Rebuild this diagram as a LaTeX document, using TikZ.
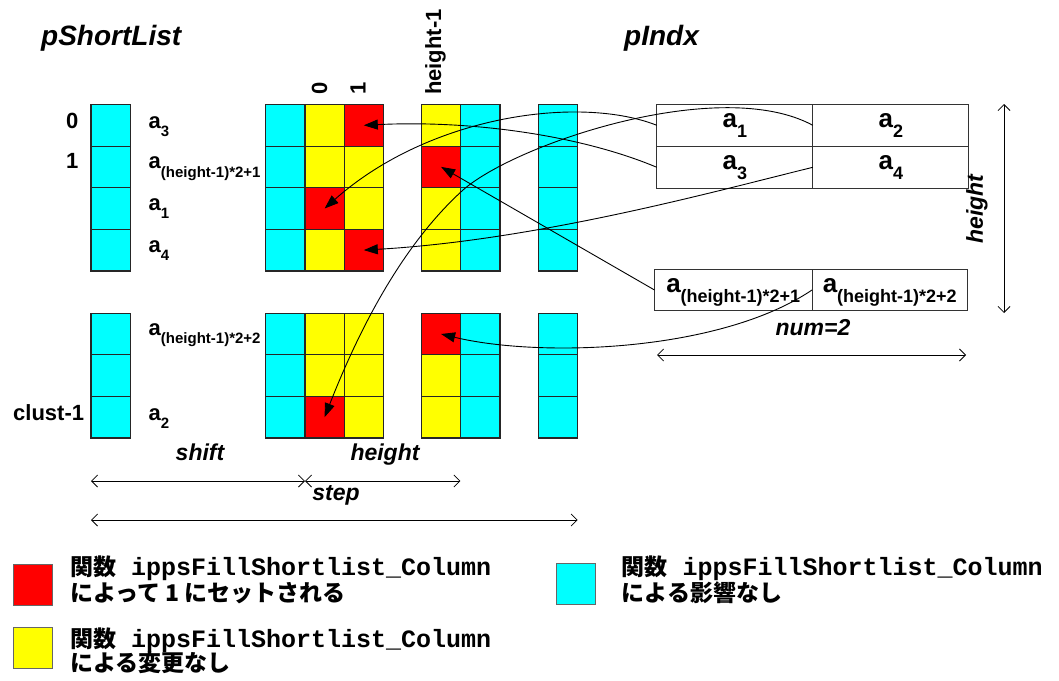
\documentclass[tikz,border=0pt]{standalone}
\usepackage{fontspec}
\setmainfont{Liberation Sans}
\newfontfamily\jpfont{Noto Sans CJK JP}
\newfontfamily\codefont{Liberation Mono}
\usetikzlibrary{arrows.meta}

\definecolor{cellcyan}{RGB}{0,255,255}
\definecolor{cellyellow}{RGB}{255,255,0}
\definecolor{cellred}{RGB}{255,0,0}

% element name "a" with a lowered index: size of a, size of index, drop, index
\newcommand\elemlabel[4]{{\fontsize{#1}{#1}\selectfont a}\raisebox{-#3pt}{\fontsize{#2}{#2}\selectfont #4}}
\newcommand\shortlbl[1]{\elemlabel{22}{15}{8.5}{#1}}
\newcommand\indxlbl[1]{\elemlabel{26}{18}{10.5}{#1}}

% one column of cells: name prefix, x of centre, y of top edge, fill colours
\newcommand\cellcolumn[4]{%
  \foreach \fillc [count=\rowi from 0] in {#4}
    \node[cellbox, fill=\fillc] (#1-\rowi) at (#2, #3+20.8+41.6*\rowi) {};}

\begin{document}
\begin{tikzpicture}[x=1pt,y=-1pt,
  cellbox/.style={draw=black!85, line width=1.2pt, minimum width=39.2pt, minimum height=41.6pt, inner sep=0pt, outer sep=0pt},
  indxbox/.style={draw=black!80, line width=1pt, minimum height=42pt, inner sep=0pt, outer sep=0pt, text height=14pt, text depth=10pt, font=\bfseries},
  conn/.style={line width=0.9pt, -{Triangle[length=14pt,width=10pt]}},
  dimline/.style={line width=0.8pt, {Straight Barb[length=6pt,width=12pt]}-{Straight Barb[length=6pt,width=12pt]}},
  lbl/.style={inner sep=0pt, font=\bfseries\fontsize{22}{22}\selectfont},
  ital/.style={inner sep=0pt, font=\bfseries\itshape\fontsize{23}{23}\selectfont},
  title/.style={inner sep=0pt, font=\bfseries\itshape\fontsize{28}{28}\selectfont},
  keybox/.style={draw=black!60, line width=1pt, minimum width=39pt, minimum height=41pt, inner sep=0pt},
  keytext/.style={inner sep=0pt, anchor=base west, font=\bfseries\jpfont\fontsize{23}{23}\selectfont},
]
\useasboundingbox (0,0) rectangle (1059,680);

% titles
\node[title, anchor=base west] (ttlshort) at (41,45) {pShortList};
\node[title, anchor=base west] (ttlindx) at (624,45) {pIndx};

% upper block of the short list
\cellcolumn{uA}{110.6}{104.5}{cellcyan,cellcyan,cellcyan,cellcyan}
\cellcolumn{uB1}{285.4}{104.5}{cellcyan,cellcyan,cellcyan,cellcyan}
\cellcolumn{uB2}{324.6}{104.5}{cellyellow,cellyellow,cellred,cellyellow}
\cellcolumn{uB3}{363.8}{104.5}{cellred,cellyellow,cellyellow,cellred}
\cellcolumn{uC1}{441.1}{104.5}{cellyellow,cellred,cellyellow,cellyellow}
\cellcolumn{uC2}{480.3}{104.5}{cellcyan,cellcyan,cellcyan,cellcyan}
\cellcolumn{uD}{558.1}{104.5}{cellcyan,cellcyan,cellcyan,cellcyan}

% lower block of the short list
\cellcolumn{lA}{110.6}{313.2}{cellcyan,cellcyan,cellcyan}
\cellcolumn{lB1}{285.4}{313.2}{cellcyan,cellcyan,cellcyan}
\cellcolumn{lB2}{324.6}{313.2}{cellyellow,cellyellow,cellred}
\cellcolumn{lB3}{363.8}{313.2}{cellyellow,cellyellow,cellyellow}
\cellcolumn{lC1}{441.1}{313.2}{cellred,cellyellow,cellyellow}
\cellcolumn{lC2}{480.3}{313.2}{cellcyan,cellcyan,cellcyan}
\cellcolumn{lD}{558.1}{313.2}{cellcyan,cellcyan,cellcyan}

% column headers
\node[lbl, rotate=90, anchor=base west] (hd0) at (327,95) {0};
\node[lbl, rotate=90, anchor=base west] (hd1) at (365.5,95) {1};
\node[lbl, rotate=90, anchor=base west] (hdh) at (441,95) {height-1};

% row labels
\node[lbl, anchor=base west] (r0) at (66,128) {0};
\node[lbl, anchor=base west] (r1) at (66,168) {1};
\node[lbl, anchor=base west] (rc) at (13,420) {clust-1};

% element labels
\node[lbl, anchor=base west] (e3) at (148.5,128) {\shortlbl{3}};
\node[lbl, anchor=base west] (eh1) at (148.5,168.5) {\shortlbl{(height-1)*2+1}};
\node[lbl, anchor=base west] (e1) at (148.5,210) {\shortlbl{1}};
\node[lbl, anchor=base west] (e4) at (148.5,252) {\shortlbl{4}};
\node[lbl, anchor=base west] (eh2) at (148.5,335) {\shortlbl{(height-1)*2+2}};
\node[lbl, anchor=base west] (e2) at (148.5,420) {\shortlbl{2}};

% pIndx table
\node[indxbox, minimum width=156pt] (a1) at (734.8,125.3) {\indxlbl{1}};
\node[indxbox, minimum width=156pt] (a2) at (890.8,125.3) {\indxlbl{2}};
\node[indxbox, minimum width=156pt] (a3) at (734.8,167.3) {\indxlbl{3}};
\node[indxbox, minimum width=156pt] (a4) at (890.8,167.3) {\indxlbl{4}};
\node[indxbox, minimum width=157.5pt, minimum height=41pt] (aL1) at (733.25,290) {\indxlbl{(height-1)*2+1}};
\node[indxbox, minimum width=155.5pt, minimum height=41pt] (aL2) at (889.75,290) {\indxlbl{(height-1)*2+2}};

% connectors from pIndx entries to the cells they set
\draw[conn] (a1.west) .. controls (580,95) and (430,115) .. (uB2-2.center);
\draw[conn] (a3.west) .. controls (580,135) and (470,120) .. (uB3-0.center);
\draw[conn] (a4.west) .. controls (720,190) and (540,240) .. (uB3-3.center);
\draw[conn] (a2.west) .. controls (720,75) and (515.5,143.8) .. (463,190)
                      .. controls (420,229) and (373,294) .. (lB2-2.center);
\draw[conn] (aL1.west) -- (uC1-1.center);
\draw[conn] (aL2.west) .. controls (720,352) and (540,358) .. (lC1-0.center);

% dimension lines
\coordinate (shiftL) at (91,481);
\coordinate (shiftR) at (305,481);
\coordinate (heightR) at (460.4,481);
\coordinate (stepL) at (91,520);
\coordinate (stepR) at (577.7,520);
\coordinate (hgtT) at (1004,104);
\coordinate (hgtB) at (1004,313);
\coordinate (numL) at (657,355);
\coordinate (numR) at (966,355);
\draw[dimline] (shiftL) -- (shiftR);
\draw[dimline] (shiftR) -- (heightR);
\draw[dimline] (stepL) -- (stepR);
\draw[dimline] (hgtT) -- (hgtB);
\draw[dimline] (numL) -- (numR);

\node[ital, anchor=base] (lshift) at (200,460) {shift};
\node[ital, anchor=base] (lheight) at (385,460) {height};
\node[ital, anchor=base] (lstep) at (336,500) {step};
\node[ital, anchor=base] (lnum) at (813,335) {num=2};
\node[ital, rotate=90] (lhgt) at (977,209) {height};

% legend
\node[keybox, fill=cellred] (keyred) at (32.8,584.5) {};
\node[keybox, fill=cellyellow] (keyyellow) at (32.8,647.5) {};
\node[keybox, fill=cellcyan] (keycyan) at (576.4,583.7) {};
\node[keytext] (kr1) at (70,575) {関数\codefont\fontsize{25}{25}\selectfont{} ippsFillShortlist\_Column};
\node[keytext] (kr2) at (70,601) {によって 1 にセットされる};
\node[keytext] (ky1) at (70,647) {関数\codefont\fontsize{25}{25}\selectfont{} ippsFillShortlist\_Column};
\node[keytext] (ky2) at (70,671) {による変更なし};
\node[keytext] (kc1) at (621.5,575) {関数\codefont\fontsize{25}{25}\selectfont{} ippsFillShortlist\_Column};
\node[keytext] (kc2) at (621.5,601) {による影響なし};
\end{tikzpicture}
\end{document}
